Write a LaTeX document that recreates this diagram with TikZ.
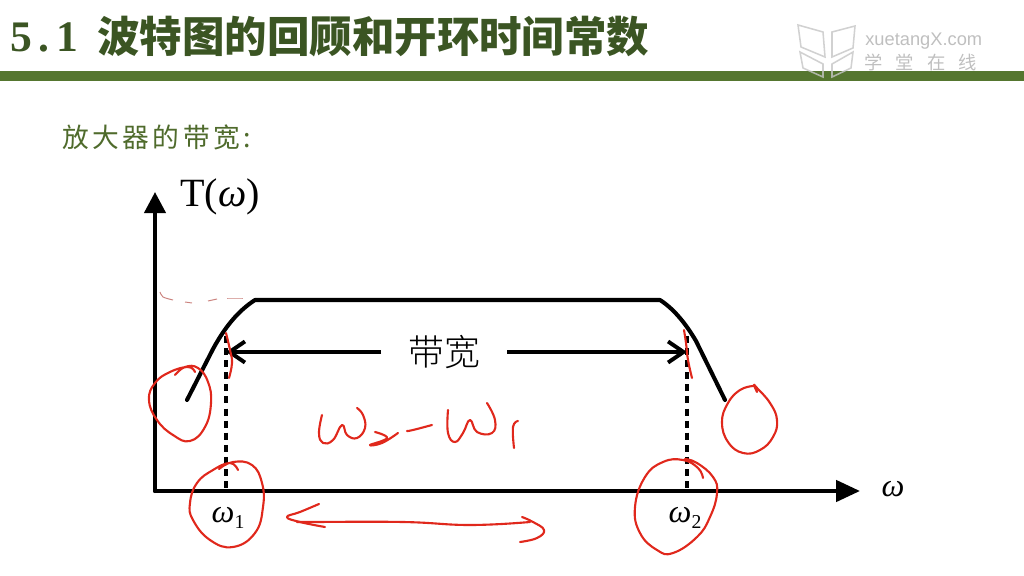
\documentclass[tikz,border=0pt]{standalone}
\usepackage{fontspec}
\usetikzlibrary{arrows.meta}
\setmainfont{Liberation Serif}
\newfontfamily\cjk{Noto Sans CJK SC}
\newfontfamily\cjkheavy{Noto Sans CJK SC Black}
\newfontfamily\cjklight{Noto Sans CJK SC Light}
\newfontfamily\cjksub[LetterSpace=13]{Noto Sans CJK SC}
\newfontfamily\cjkmark[LetterSpace=72]{Noto Sans CJK SC}
\newfontfamily\sansmark{Liberation Sans}
\definecolor{titlegreen}{HTML}{3B5523}
\definecolor{subgreen}{HTML}{4F6B2C}
\definecolor{bargreen}{HTML}{55762F}
\definecolor{inkred}{HTML}{E0281C}
\tikzset{
blackline/.style={line width=2.9pt,black,line cap=round},
redink/.style={line width=1.5pt,inkred,line cap=round,line join=round,smooth,tension=.75},
faintink/.style={line width=.7pt,inkred!55!gray,opacity=.7,smooth},
markline/.style={line width=1.1pt,gray!45,opacity=.8},
lbl/.style={inner sep=0pt}
}
\begin{document}
\begin{tikzpicture}[x=.025cm,y=-.025cm]
\useasboundingbox (0,0) rectangle (1024,576);
\fill[bargreen] (0,71) rectangle (1024,81);
\node[lbl,anchor=west,text=titlegreen,font=\fontsize{31}{31}\selectfont\bfseries\addfontfeature{LetterSpace=15}] (secnum) at (10,37) {5.1};
\node[lbl,anchor=west,text=titlegreen,font=\fontsize{30.2}{30}\selectfont\cjkheavy] (title) at (97,37) {波特图的回顾和开环时间常数};
\node[lbl,anchor=west,text=subgreen,font=\fontsize{19}{19}\selectfont\cjksub] (sub) at (62,137) {放大器的带宽:};

\draw[markline] (798,25)--(823,32)--(825,57)--(801,47)--cycle;
\draw[markline] (832,32)--(855,26)--(853,48)--(832,57)--cycle;
\draw[markline] (800,52)--(823,64)--(823,77)--(803,68)--cycle;
\draw[markline] (832,64)--(853,52)--(851,68)--(832,77)--cycle;
\node[lbl,anchor=west,text=gray!50,font=\fontsize{13}{13}\selectfont\sansmark] (markurl) at (865,41) {xuetangX.com};
\node[lbl,anchor=west,text=gray!50,font=\fontsize{13}{13}\selectfont\cjkmark] (markcn) at (864,62) {学堂在线};

\coordinate (origin) at (155,491);
\coordinate (ytip) at (155,192);
\coordinate (xtip) at (860,491);
\coordinate (foot1) at (226,491);
\coordinate (foot2) at (687,491);
\coordinate (top1) at (226,336);
\coordinate (top2) at (687,336);
\coordinate (end1) at (226,352);
\coordinate (end2) at (687,352);

\draw[blackline,-{Triangle[length=15pt,width=15pt]}] (origin)--(ytip);
\draw[blackline,-{Triangle[length=17pt,width=15pt]}] (origin)--(xtip);
\draw[blackline,line join=round] (187,400)--(213,349) .. controls (225,327) and (238,311) .. (255,300)--(660,300) .. controls (674,309) and (686,324) .. (696,341)--(725,400);
\foreach \a/\b in {top1/foot1,top2/foot2}
\draw[line width=3.4pt,dash pattern=on 5pt off 3.6pt] (\a)--(\b);

\node[lbl,font=\fontsize{28.5}{28}\selectfont] (ylabel) at (220,197) {T(\textit{ω})};
\node[lbl,font=\fontsize{23}{23}\selectfont] (xlabel) at (893,489) {\textit{ω}};
\node[lbl,font=\fontsize{23}{23}\selectfont] (w1) at (228,518) {\textit{ω}\raisebox{-4pt}{\fontsize{14}{14}\selectfont 1}};
\node[lbl,font=\fontsize{23}{23}\selectfont] (w2) at (685,518) {\textit{ω}\raisebox{-4pt}{\fontsize{14}{14}\selectfont 2}};
\node[lbl,font=\fontsize{25.5}{26}\selectfont\cjklight] (band) at (444,352) {带宽};
\draw[line width=2.8pt,-{Straight Barb[length=11pt,width=15pt]}] (381,352) -- (end1);
\draw[line width=2.8pt,-{Straight Barb[length=11pt,width=15pt]}] (507,352) -- (end2);

\draw[redink] plot coordinates {(175,375)(185,367)(198,368)(208,382)(211,403)(205,427)(190,441)(173,435)(157,420)(149,400)(155,383)(170,372)(188,367)(195,372)};
\draw[redink] plot coordinates {(219,469)(233,462)(252,465)(262,483)(263,507)(255,533)(233,547)(210,540)(193,520)(190,503)(197,483)(213,470)(230,463)(238,470)};
\draw[redink] plot coordinates {(226,333)(230,350)(232,363)(229,378)};
\draw[redink] plot coordinates {(753,386)(740,390)(728,403)(722,422)(728,442)(743,453)(760,450)(773,437)(777,420)(770,403)(757,388)(754,385)(757,392)};
\draw[redink] plot coordinates {(703,478)(698,468)(683,460)(663,462)(645,477)(635,507)(640,533)(657,550)(673,553)(697,537)(710,517)(717,493)(713,477)(697,463)(685,459)};
\draw[redink] plot coordinates {(684,330)(686,343)(688,360)(692,378)};
\draw[redink] plot coordinates {(322,415)(319,433)(323,443)(333,440)(342,425)(347,435)(357,438)(365,428)(363,415)(357,408)};
\draw[redink] plot coordinates {(375,432)(387,438)(370,445)(382,443)(398,433)};
\draw[redink] plot coordinates {(407,431)(413,430)(432,425)};
\draw[redink] plot coordinates {(448,410)(448,433)(455,442)(463,433)(470,420)(477,432)(492,433)(495,420)(487,403)};
\draw[redink] plot coordinates {(514,448)(513,427)(518,421)};
\draw[redink] plot coordinates {(319,504)(300,512)(287,517)(300,522)(325,527)};
\draw[redink] plot coordinates {(300,522)(310,522)(403,522)(470,525)(530,522)};
\draw[redink] plot coordinates {(522,517)(533,522)(544,530)(537,538)(520,542)};

\draw[faintink] plot coordinates {(160,292)(163,297)(173,300)};
\draw[faintink] plot coordinates {(185,302)(192,303)};
\draw[faintink] plot coordinates {(208,301)(217,299)};
\draw[faintink] plot coordinates {(227,298)(243,298)};
\end{tikzpicture}
\end{document}
